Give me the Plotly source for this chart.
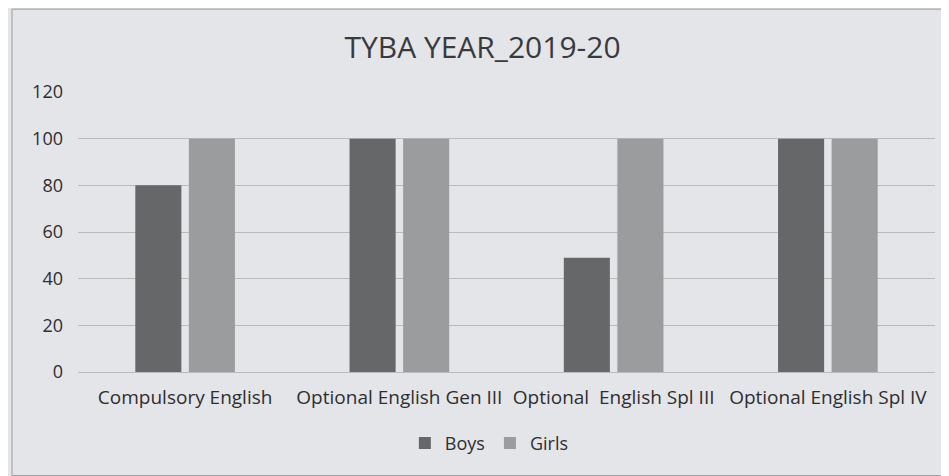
import plotly.graph_objects as go

categories = ["Compulsory English", "Optional English Gen III", "Optional  English Spl III", "Optional English Spl IV"]
boys = [80, 100, 49, 100]
girls = [100, 100, 100, 100]
y_ticks = [0, 20, 40, 60, 80, 100, 120]

fig = go.Figure()
fig.add_trace(go.Bar(name="Boys", x=categories, y=boys, marker=dict(color="#666769", line=dict(width=0))))
fig.add_trace(go.Bar(name="Girls", x=categories, y=girls, marker=dict(color="#9b9c9e", line=dict(width=0))))

fig.update_layout(
    width=949, height=476,
    paper_bgcolor="#e4e5e8", plot_bgcolor="#e4e5e8",
    margin=dict(l=70, r=22, t=84, b=112, autoexpand=False),
    title=dict(text="TYBA YEAR_2019-20", x=0.5, xanchor="center", y=0.916, yanchor="middle",
               font=dict(family="Open Sans", size=30, color="#3a3a3c")),
    barmode="group", bargap=0.5, bargroupgap=0.14,
    font=dict(family="Open Sans", size=17, color="#2e2e30"),
    legend=dict(orientation="h", x=0.48, xanchor="center", y=-0.255, yanchor="middle",
                font=dict(size=18, color="#2e2e30"), bgcolor="rgba(0,0,0,0)"),
    xaxis=dict(showgrid=False, showline=True, linecolor="#b9babc", linewidth=1, ticks="",
               tickfont=dict(size=19), automargin=False, ticklabelstandoff=8),
    yaxis=dict(range=[0, 120], tickvals=y_ticks, showgrid=True, gridcolor="#b9babc", gridwidth=1,
               zeroline=False, ticks="", tickfont=dict(size=18), ticklabelstandoff=14, automargin=False),
)
fig.add_shape(type="rect", xref="paper", yref="paper", x0=-0.077, x1=1.013, y0=-0.37, y1=1.296,
              line=dict(color="#9a9b9d", width=1))
fig.write_html("out.html")
